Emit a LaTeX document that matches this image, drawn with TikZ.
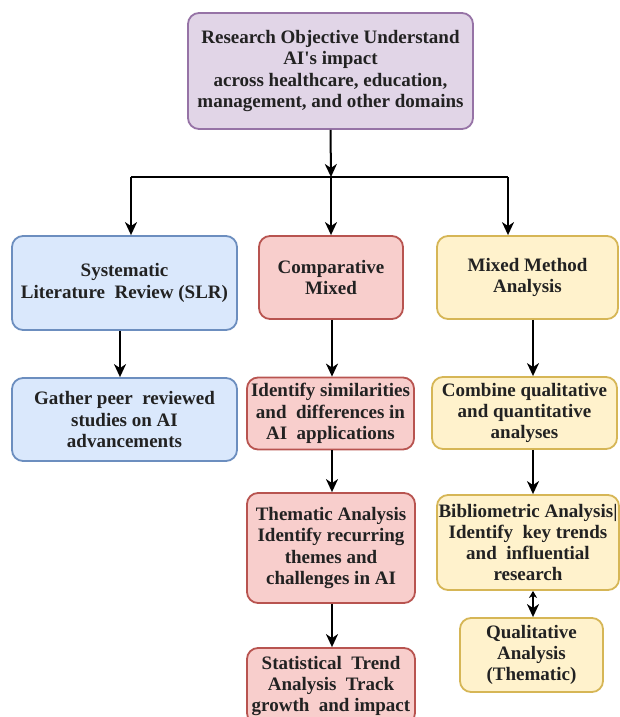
\documentclass[tikz,border=0pt]{standalone}
\usepackage{fontspec}
\setmainfont{Liberation Serif}[Ligatures=TeXOff]
\usetikzlibrary{arrows.meta}
\definecolor{pfill}{HTML}{E1D5E7}\definecolor{pdraw}{HTML}{9673A6}
\definecolor{bfill}{HTML}{DAE8FC}\definecolor{bdraw}{HTML}{6C8EBF}
\definecolor{rfill}{HTML}{F8CECC}\definecolor{rdraw}{HTML}{B85450}
\definecolor{yfill}{HTML}{FFF2CC}\definecolor{ydraw}{HTML}{D6B656}
\definecolor{txt}{HTML}{222222}
\tikzset{
  box/.style={rectangle, rounded corners=11pt, line width=1.8pt, align=center,
    inner sep=1pt, font=\bfseries\fontsize{19}{21.3}\selectfont, text=txt},
  pbox/.style={box, fill=pfill, draw=pdraw},
  bbox/.style={box, fill=bfill, draw=bdraw},
  rbox/.style={box, fill=rfill, draw=rdraw},
  ybox/.style={box, fill=yfill, draw=ydraw},
  conn/.style={line width=2pt, black},
  arr/.style={conn, -{Stealth[length=13pt,width=12pt,inset=4pt]}},
  darr/.style={conn, {Stealth[length=7pt,width=8pt,inset=2pt]}-{Stealth[length=13pt,width=12pt,inset=4pt]}}
}
\begin{document}
\begin{tikzpicture}[x=1pt,y=-1pt]
\useasboundingbox (0,0) rectangle (620,717);
\node[pbox, minimum width=285pt, minimum height=116pt] (top) at (330.5,71)
  {Research Objective Understand\\AI's impact\\across healthcare, education,\\management, and other domains};
\node[bbox, minimum width=225pt, minimum height=94pt] (slr) at (124.5,283)
  {Systematic\\Literature\ \ Review (SLR)};
\node[bbox, minimum width=225pt, minimum height=83pt] (gather) at (124.5,419.5)
  {Gather peer\ \ reviewed\\studies on AI\\advancements};
\node[rbox, minimum width=144pt, minimum height=83pt] (comp) at (331,277.5)
  {Comparative\\Mixed};
\node[rbox, minimum width=167pt, minimum height=72pt] (ident) at (330.5,413.5)
  {Identify similarities\\and\ \ differences in\\AI\ \ applications};
\node[rbox, minimum width=168pt, minimum height=110pt] (them) at (331,548)
  {Thematic Analysis\\Identify recurring\\themes and\\challenges in AI};
\node[rbox, minimum width=168pt, minimum height=76pt] (stat) at (331,686)
  {Statistical\ \ Trend\\Analysis\ \ Track\\growth\ \ and impact};
\node[ybox, minimum width=181pt, minimum height=83pt] (mixed) at (527.5,277.5)
  {Mixed Method\\Analysis};
\node[ybox, minimum width=185pt, minimum height=72pt] (comb) at (524.5,413)
  {Combine qualitative\\and quantitative\\analyses};
\node[ybox, minimum width=182pt, minimum height=95pt] (bib) at (528,542.5)
  {Bibliometric Analysis|\\Identify\ \ key trends\\and\ \ influential\\research};
\node[ybox, minimum width=143pt, minimum height=74pt] (qual) at (531.5,655)
  {Qualitative\\Analysis\\(Thematic)};
\coordinate (j) at (331,177);
\coordinate (jl) at (131,177);
\coordinate (jr) at (508,177);
\coordinate (xs) at (120,0);
\coordinate (xc) at (332,0);
\coordinate (xm) at (533,0);
\draw[conn] (jl) -- (jr);
\draw[arr] (top.south) -- (j);
\draw[arr] (jl) -- (slr.north -| jl);
\draw[arr] (j) -- (comp.north -| j);
\draw[arr] (jr) -- (mixed.north -| jr);
\draw[arr] (slr.south -| xs) -- (gather.north -| xs);
\draw[arr] (comp.south -| xc) -- (ident.north -| xc);
\draw[arr] (ident.south -| xc) -- (them.north -| xc);
\draw[arr] (them.south -| xc) -- (stat.north -| xc);
\draw[arr] (mixed.south -| xm) -- (comb.north -| xm);
\draw[arr] (comb.south -| xm) -- (bib.north -| xm);
\draw[darr] (bib.south -| xm) -- (qual.north -| xm);
\end{tikzpicture}
\end{document}
